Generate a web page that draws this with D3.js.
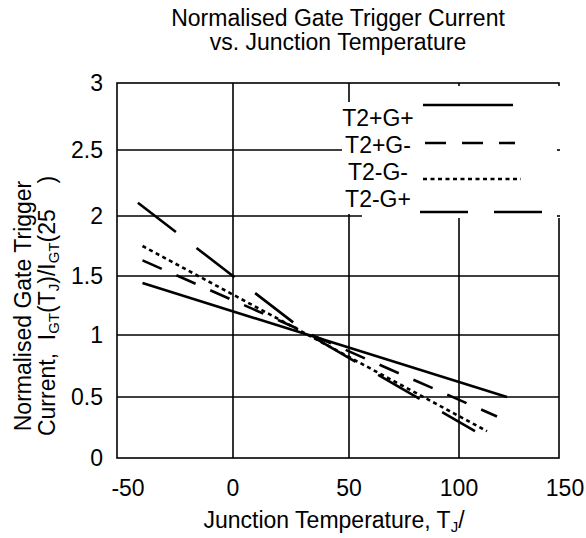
<!DOCTYPE html>
<html><head><meta charset="utf-8">
<script src="https://cdn.jsdelivr.net/npm/d3@7"></script>
<style>
body{margin:0;background:#fff}
svg{display:block}
text{font-family:"Liberation Sans",Arial,sans-serif;fill:#000}
</style>
</head><body><svg id="c" width="586" height="538"></svg>
<script>
// ---- data ----
const xTicks = [-50, 0, 50, 100, 150];
const yTicks = [0, 0.5, 1, 1.5, 2, 2.5, 3];
const seriesNames = ["T2+G+", "T2+G-", "T2-G-", "T2-G+"];
const tempT2pGp = [-39, 124];     const valT2pGp = [1.44, 0.50];
const tempT2pGm = [-39, 119];     const valT2pGm = [1.63, 0.34];
const tempT2mGm = [-39, 114];     const valT2mGm = [1.75, 0.22];
const tempT2mGp = [-41, 33, 108]; const valT2mGp = [2.10, 1.00, 0.22];

const seriesTemps = [tempT2pGp, tempT2pGm, tempT2mGm, tempT2mGp];
const seriesVals  = [valT2pGp, valT2pGm, valT2mGm, valT2mGp];

// ---- styles ----
const dashStyles = [null, "21,16", "4,3.5", "48,26"];
const FONT = 23;
const SUB = 15;

const svg = d3.select("#c");
svg.append("rect").attr("width",586).attr("height",538).attr("fill","#fff");

// piecewise scales follow the uneven grid of the original drawing
const x = d3.scaleLinear().domain(xTicks).range([117, 233, 349, 459, 559]);
const y = d3.scaleLinear().domain(yTicks).range([458, 397, 335, 276, 216, 150, 83]);

const [x0, x1] = [x(xTicks[0]), x(xTicks[xTicks.length-1])];
const [y0, y1] = [y(yTicks[0]), y(yTicks[yTicks.length-1])];

// grid
const grid = svg.append("g").attr("stroke","#000").attr("stroke-width",1.6);
grid.selectAll("line.v").data(xTicks.slice(1,-1)).join("line")
  .attr("x1",d=>x(d)).attr("x2",d=>x(d)).attr("y1",y1).attr("y2",y0);
grid.selectAll("line.h").data(yTicks.slice(1,-1)).join("line")
  .attr("x1",x0).attr("x2",x1).attr("y1",d=>y(d)).attr("y2",d=>y(d));
svg.append("rect").attr("x",x0).attr("y",y1).attr("width",x1-x0).attr("height",y0-y1)
  .attr("fill","none").attr("stroke","#000").attr("stroke-width",1.6);

// data lines
const line = d3.line().x(d=>x(d[0])).y(d=>y(d[1]));
seriesNames.forEach((n,i)=>{
  const pts = seriesTemps[i].map((t,j)=>[t, seriesVals[i][j]]);
  svg.append("path").attr("d", line(pts)).attr("fill","none")
    .attr("stroke","#000").attr("stroke-width",2.6)
    .attr("stroke-dasharray", dashStyles[i]);
});

// legend background
svg.append("rect").attr("x",342).attr("y",102).attr("width",30).attr("height",112).attr("fill","#fff");
svg.append("rect").attr("x",362).attr("y",86).attr("width",199).attr("height",132).attr("fill","#fff");
// gridline stubs at the right edge next to legend
svg.selectAll("line.stub").data(yTicks.filter(v=>y(v)>86 && y(v)<218)).join("line")
  .attr("x1",x1-2).attr("x2",x1+1).attr("y1",d=>y(d)).attr("y2",d=>y(d))
  .attr("stroke","#000").attr("stroke-width",1.6);

// legend
const legLabelY = [126, 153, 180, 207];
const legLineY = [105, 143, 179, 212];
const legLineX = [[423,513],[425,515],[423,521],[420,542]];
seriesNames.forEach((n,i)=>{
  svg.append("text").attr("x",378).attr("y",legLabelY[i]).attr("text-anchor","middle")
    .attr("font-size",FONT).text(n);
  svg.append("line").attr("x1",legLineX[i][0]).attr("x2",legLineX[i][1])
    .attr("y1",legLineY[i]).attr("y2",legLineY[i])
    .attr("stroke","#000").attr("stroke-width",2.6).attr("stroke-dasharray",dashStyles[i]);
});

// tick labels
svg.selectAll("text.xt").data(xTicks).join("text")
  .attr("x",(d,i)=> i===0 ? x(d)+11 : (i===xTicks.length-1 ? x(d)+6 : x(d)))
  .attr("y",496).attr("text-anchor","middle").attr("font-size",FONT).text(d=>d);
svg.selectAll("text.yt").data(yTicks).join("text")
  .attr("x",103).attr("y",d=>y(d)+8).attr("text-anchor","end").attr("font-size",FONT).text(d=>d);

// title
const title = svg.append("text").attr("text-anchor","middle").attr("font-size",FONT);
title.append("tspan").attr("x",338).attr("y",26).text("Normalised Gate Trigger Current");
title.append("tspan").attr("x",338).attr("y",50).text("vs. Junction Temperature");

// x axis title
const xt = svg.append("text").attr("x",334).attr("y",528).attr("text-anchor","middle").attr("font-size",FONT);
xt.append("tspan").text("Junction Temperature, T");
xt.append("tspan").attr("font-size",SUB).attr("dy",4).text("J");
xt.append("tspan").attr("dy",-4).text("/");

// y axis title
const yt = svg.append("text").attr("transform","rotate(-90)").attr("text-anchor","middle")
  .attr("font-size",FONT).style("white-space","pre");
yt.append("tspan").attr("x",-306).attr("y",31).text("Normalised Gate Trigger");
const l2 = yt.append("tspan").attr("x",-306).attr("y",55);
l2.append("tspan").text("Current,  I");
l2.append("tspan").attr("font-size",SUB).attr("dy",4).text("GT");
l2.append("tspan").attr("dy",-4).text("(T");
l2.append("tspan").attr("font-size",SUB).attr("dy",4).text("J");
l2.append("tspan").attr("dy",-4).text(")/I");
l2.append("tspan").attr("font-size",SUB).attr("dy",4).text("GT");
l2.append("tspan").attr("dy",-4).text("(25    )");
</script>
</body></html>
